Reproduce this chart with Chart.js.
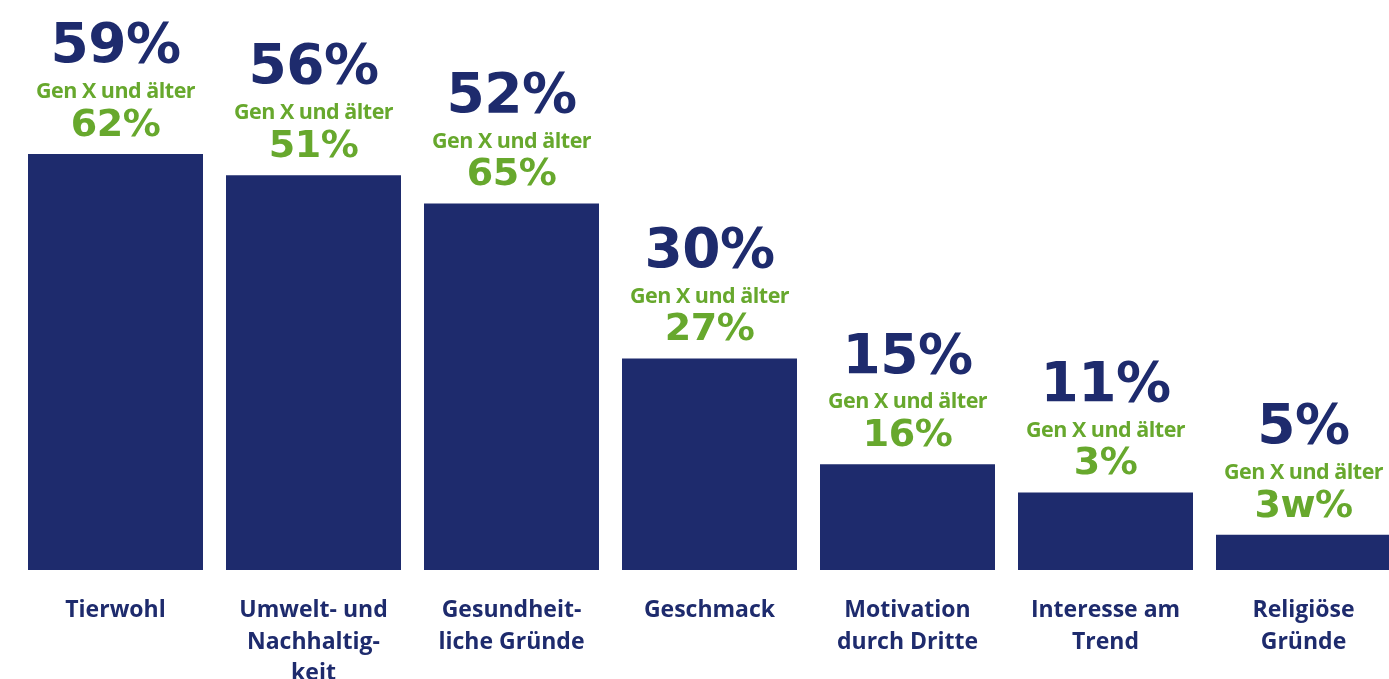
<!DOCTYPE html>
<html lang="de">
<head>
    <meta charset="UTF-8">
    <title>Gründe</title>
    <script src="https://cdn.jsdelivr.net/npm/chart.js"></script>
    <style>
        html, body { margin: 0; padding: 0; background: #ffffff; overflow: hidden; }
        .wrap { position: absolute; left: 0; top: 0; width: 1420px; height: 679px; }
    </style>
</head>
<body>
<div class="wrap">
    <canvas id="chart" width="1420" height="679"></canvas>
</div>
<script>
    // Kategorien und Werte
    const categories = [
        ['Tierwohl'],
        ['Umwelt- und', 'Nachhaltig-', 'keit'],
        ['Gesundheit-', 'liche Gründe'],
        ['Geschmack'],
        ['Motivation', 'durch Dritte'],
        ['Interesse am', 'Trend'],
        ['Religiöse', 'Gründe']
    ];
    const gesamt = [59, 56, 52, 30, 15, 11, 5];
    const genXLabels = ['62%', '51%', '65%', '27%', '16%', '3%', '3w%'];
    const genXTitle = 'Gen X und älter';

    const NAVY = '#1e2b6d';
    const GREEN = '#67a82d';

    // Prozentwerte + Gen-X-Zeile über jedem Balken
    const labelPlugin = {
        id: 'topLabels',
        afterDatasetsDraw(chart) {
            const ctx = chart.ctx;
            const meta = chart.getDatasetMeta(0);
            ctx.save();
            ctx.textAlign = 'center';
            ctx.textBaseline = 'middle';
            meta.data.forEach((bar, i) => {
                const x = bar.x;
                const top = bar.y;
                ctx.fillStyle = NAVY;
                ctx.font = 'bold 55px "DejaVu Sans"';
                ctx.letterSpacing = '-0.5px';
                ctx.fillText(gesamt[i] + '%', x, top - 106);

                ctx.fillStyle = GREEN;
                ctx.font = 'bold 21.5px "Open Sans"';
                ctx.letterSpacing = '-0.5px';
                ctx.fillText(genXTitle, x, top - 62);

                ctx.font = 'bold 38px "DejaVu Sans"';
                ctx.letterSpacing = '-0.5px';
                ctx.fillText(genXLabels[i], x, top - 28);
            });
            ctx.restore();
        }
    };

    new Chart(document.getElementById('chart'), {
        type: 'bar',
        data: {
            labels: categories,
            datasets: [{
                data: gesamt,
                backgroundColor: NAVY,
                borderWidth: 0,
                barPercentage: 0.8838,
                categoryPercentage: 1
            }]
        },
        options: {
            responsive: false,
            animation: false,
            layout: { padding: { left: 16.5, right: 17.5, top: 6, bottom: 0 } },
            plugins: {
                legend: { display: false },
                tooltip: { enabled: false }
            },
            scales: {
                y: {
                    display: false,
                    min: 0,
                    max: 80
                },
                x: {
                    grid: { display: false, drawTicks: false },
                    border: { display: false },
                    ticks: {
                        color: NAVY,
                        padding: 25,
                        maxRotation: 0,
                        autoSkip: false,
                        font: { family: 'Open Sans', weight: 'bold', size: 23, lineHeight: 1.37 }
                    },
                    afterFit(axis) { axis.height = 109; }
                }
            }
        },
        plugins: [labelPlugin]
    });
</script>
</body>
</html>
